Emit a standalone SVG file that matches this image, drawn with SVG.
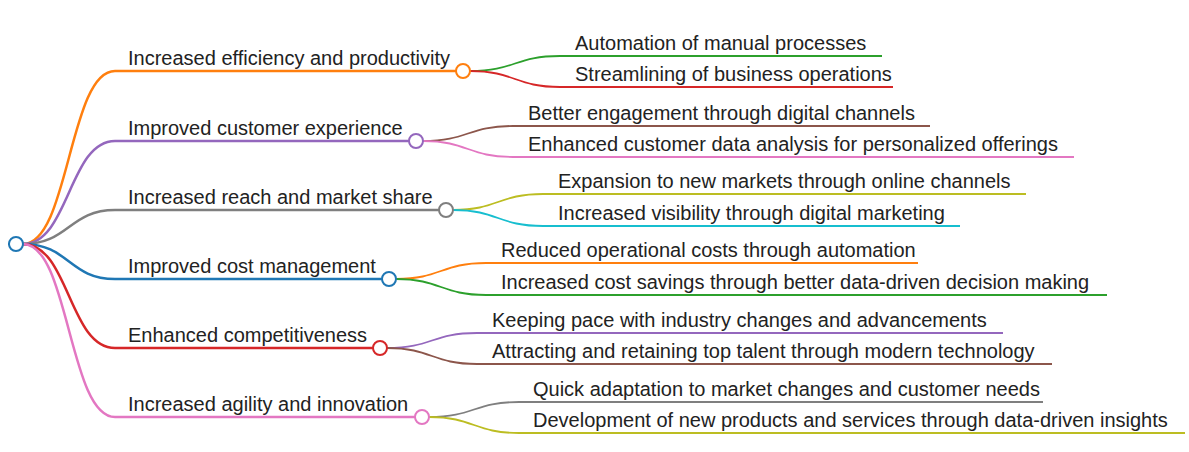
<svg xmlns="http://www.w3.org/2000/svg" width="1189" height="452" viewBox="0 0 1189 452">
<style>
text{font-family:"Liberation Sans",Arial,sans-serif;font-size:20px;fill:#222}
.b{fill:none;stroke-width:2.5}
.c{fill:none;stroke-width:1.8}
circle{fill:#fff;stroke-width:2}
</style>
<rect width="1189" height="452" fill="#fff"/>
<g id="connectors">
<path class="b" stroke="#1f77b4" d="M8,244H16"/>
<path class="b" stroke="#ff7f0e" d="M23,244C69,244 69,71 115,71H456"/>
<path class="b" stroke="#9467bd" d="M23,244C69,244 69,141 115,141H409"/>
<path class="b" stroke="#7f7f7f" d="M23,244C69,244 69,210 115,210H439"/>
<path class="b" stroke="#1f77b4" d="M23,244C69,244 69,279 115,279H382"/>
<path class="b" stroke="#d62728" d="M23,244C69,244 69,348 115,348H373"/>
<path class="b" stroke="#e377c2" d="M23,244C69,244 69,417 115,417H415"/>
<path class="c" stroke="#2ca02c" d="M470,71C515,71 515,56 560,56H882"/>
<path class="c" stroke="#d62728" d="M470,71C515,71 515,87 560,87H893"/>
<path class="c" stroke="#8c564b" d="M423,141C468,141 468,126 513,126H930"/>
<path class="c" stroke="#e377c2" d="M423,141C468,141 468,157 513,157H1074"/>
<path class="c" stroke="#bcbd22" d="M453,210C498,210 498,194 543,194H1026"/>
<path class="c" stroke="#17becf" d="M453,210C498,210 498,226 543,226H960"/>
<path class="c" stroke="#ff7f0e" d="M396,279C441,279 441,263 486,263H918"/>
<path class="c" stroke="#2ca02c" d="M396,279C441,279 441,295 486,295H1107"/>
<path class="c" stroke="#9467bd" d="M387,348C432,348 432,333 477,333H1003"/>
<path class="c" stroke="#8c564b" d="M387,348C432,348 432,364 477,364H1052"/>
<path class="c" stroke="#7f7f7f" d="M429,417C474,417 474,402 519,402H1043"/>
<path class="c" stroke="#bcbd22" d="M429,417C474,417 474,433 519,433H1185"/>
</g>
<g id="root"><circle cx="16" cy="244" r="7" stroke="#1f77b4"/></g>
<g id="n1"><text x="128" y="65">Increased efficiency and productivity</text><circle cx="463" cy="71" r="7" stroke="#ff7f0e"/></g>
<g id="n2"><text x="128" y="135">Improved customer experience</text><circle cx="416" cy="141" r="7" stroke="#9467bd"/></g>
<g id="n3"><text x="128" y="204">Increased reach and market share</text><circle cx="446" cy="210" r="7" stroke="#7f7f7f"/></g>
<g id="n4"><text x="128" y="273">Improved cost management</text><circle cx="389" cy="279" r="7" stroke="#1f77b4"/></g>
<g id="n5"><text x="128" y="342">Enhanced competitiveness</text><circle cx="380" cy="348" r="7" stroke="#d62728"/></g>
<g id="n6"><text x="128" y="411">Increased agility and innovation</text><circle cx="422" cy="417" r="7" stroke="#e377c2"/></g>
<g id="c11"><text x="575" y="50">Automation of manual processes</text></g>
<g id="c12"><text x="575" y="81">Streamlining of business operations</text></g>
<g id="c21"><text x="528" y="120">Better engagement through digital channels</text></g>
<g id="c22"><text x="528" y="151">Enhanced customer data analysis for personalized offerings</text></g>
<g id="c31"><text x="558" y="188">Expansion to new markets through online channels</text></g>
<g id="c32"><text x="558" y="220">Increased visibility through digital marketing</text></g>
<g id="c41"><text x="501" y="257">Reduced operational costs through automation</text></g>
<g id="c42"><text x="501" y="289">Increased cost savings through better data-driven decision making</text></g>
<g id="c51"><text x="492" y="327">Keeping pace with industry changes and advancements</text></g>
<g id="c52"><text x="492" y="358">Attracting and retaining top talent through modern technology</text></g>
<g id="c61"><text x="533" y="396">Quick adaptation to market changes and customer needs</text></g>
<g id="c62"><text x="533" y="427">Development of new products and services through data-driven insights</text></g>
</svg>
